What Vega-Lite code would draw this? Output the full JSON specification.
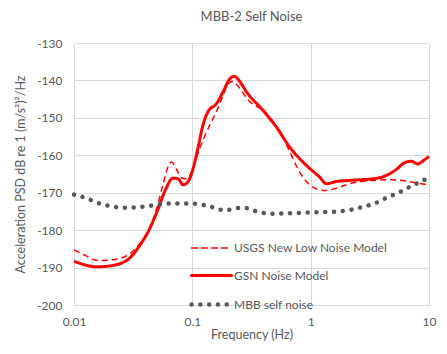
{
  "$schema": "https://vega.github.io/schema/vega-lite/v6.json",
  "width": 355,
  "height": 262,
  "autosize": {"type": "none"},
  "padding": {"left": 74, "top": 43, "right": 18, "bottom": 49},
  "background": "white",
  "config": {"font": "Lato", "view": {"stroke": null}},
  "title": {"text": "MBB-2 Self Noise", "fontSize": 13, "fontWeight": "normal", "color": "#595959", "offset": 13},
  "data": {"values": [
    {"s": "USGS New Low Noise Model", "f": 0.01, "v": -185.3},
    {"s": "USGS New Low Noise Model", "f": 0.012, "v": -186.5},
    {"s": "USGS New Low Noise Model", "f": 0.016, "v": -188.1},
    {"s": "USGS New Low Noise Model", "f": 0.0215, "v": -187.9},
    {"s": "USGS New Low Noise Model", "f": 0.0279, "v": -186.8},
    {"s": "USGS New Low Noise Model", "f": 0.0338, "v": -184.6},
    {"s": "USGS New Low Noise Model", "f": 0.0499, "v": -174.3},
    {"s": "USGS New Low Noise Model", "f": 0.0567, "v": -167.6},
    {"s": "USGS New Low Noise Model", "f": 0.0625, "v": -163.0},
    {"s": "USGS New Low Noise Model", "f": 0.0667, "v": -161.8},
    {"s": "USGS New Low Noise Model", "f": 0.0736, "v": -163.8},
    {"s": "USGS New Low Noise Model", "f": 0.0811, "v": -166.0},
    {"s": "USGS New Low Noise Model", "f": 0.0893, "v": -166.3},
    {"s": "USGS New Low Noise Model", "f": 0.0985, "v": -164.5},
    {"s": "USGS New Low Noise Model", "f": 0.1085, "v": -160.5},
    {"s": "USGS New Low Noise Model", "f": 0.123, "v": -156.0},
    {"s": "USGS New Low Noise Model", "f": 0.14, "v": -152.0},
    {"s": "USGS New Low Noise Model", "f": 0.16, "v": -148.3},
    {"s": "USGS New Low Noise Model", "f": 0.182, "v": -144.0},
    {"s": "USGS New Low Noise Model", "f": 0.20, "v": -141.0},
    {"s": "USGS New Low Noise Model", "f": 0.221, "v": -140.2},
    {"s": "USGS New Low Noise Model", "f": 0.24, "v": -141.3},
    {"s": "USGS New Low Noise Model", "f": 0.30, "v": -145.4},
    {"s": "USGS New Low Noise Model", "f": 0.40, "v": -148.2},
    {"s": "USGS New Low Noise Model", "f": 0.547, "v": -153.5},
    {"s": "USGS New Low Noise Model", "f": 0.665, "v": -159.0},
    {"s": "USGS New Low Noise Model", "f": 0.807, "v": -164.5},
    {"s": "USGS New Low Noise Model", "f": 1.045, "v": -168.5},
    {"s": "USGS New Low Noise Model", "f": 1.31, "v": -169.4},
    {"s": "USGS New Low Noise Model", "f": 1.65, "v": -168.8},
    {"s": "USGS New Low Noise Model", "f": 2.13, "v": -167.6},
    {"s": "USGS New Low Noise Model", "f": 3.15, "v": -166.8},
    {"s": "USGS New Low Noise Model", "f": 4.65, "v": -166.5},
    {"s": "USGS New Low Noise Model", "f": 6.42, "v": -166.9},
    {"s": "USGS New Low Noise Model", "f": 8.31, "v": -167.5},
    {"s": "USGS New Low Noise Model", "f": 10, "v": -168.0},

    {"s": "GSN Noise Model", "f": 0.01, "v": -188.3},
    {"s": "GSN Noise Model", "f": 0.0156, "v": -189.8},
    {"s": "GSN Noise Model", "f": 0.0215, "v": -189.4},
    {"s": "GSN Noise Model", "f": 0.0297, "v": -187.4},
    {"s": "GSN Noise Model", "f": 0.0361, "v": -184.0},
    {"s": "GSN Noise Model", "f": 0.0438, "v": -179.5},
    {"s": "GSN Noise Model", "f": 0.0514, "v": -174.3},
    {"s": "GSN Noise Model", "f": 0.0586, "v": -169.6},
    {"s": "GSN Noise Model", "f": 0.0688, "v": -166.1},
    {"s": "GSN Noise Model", "f": 0.0759, "v": -166.3},
    {"s": "GSN Noise Model", "f": 0.0836, "v": -167.9},
    {"s": "GSN Noise Model", "f": 0.0922, "v": -167.0},
    {"s": "GSN Noise Model", "f": 0.1016, "v": -163.5},
    {"s": "GSN Noise Model", "f": 0.1119, "v": -157.8},
    {"s": "GSN Noise Model", "f": 0.1233, "v": -151.8},
    {"s": "GSN Noise Model", "f": 0.1359, "v": -148.3},
    {"s": "GSN Noise Model", "f": 0.160, "v": -146.2},
    {"s": "GSN Noise Model", "f": 0.182, "v": -143.0},
    {"s": "GSN Noise Model", "f": 0.207, "v": -139.6},
    {"s": "GSN Noise Model", "f": 0.226, "v": -138.9},
    {"s": "GSN Noise Model", "f": 0.252, "v": -140.3},
    {"s": "GSN Noise Model", "f": 0.286, "v": -143.0},
    {"s": "GSN Noise Model", "f": 0.396, "v": -148.0},
    {"s": "GSN Noise Model", "f": 0.514, "v": -152.5},
    {"s": "GSN Noise Model", "f": 0.665, "v": -157.8},
    {"s": "GSN Noise Model", "f": 0.920, "v": -162.7},
    {"s": "GSN Noise Model", "f": 1.19, "v": -165.8},
    {"s": "GSN Noise Model", "f": 1.36, "v": -167.6},
    {"s": "GSN Noise Model", "f": 1.65, "v": -167.0},
    {"s": "GSN Noise Model", "f": 2.13, "v": -166.7},
    {"s": "GSN Noise Model", "f": 2.76, "v": -166.5},
    {"s": "GSN Noise Model", "f": 3.36, "v": -166.3},
    {"s": "GSN Noise Model", "f": 4.35, "v": -165.4},
    {"s": "GSN Noise Model", "f": 5.29, "v": -163.8},
    {"s": "GSN Noise Model", "f": 6.21, "v": -162.0},
    {"s": "GSN Noise Model", "f": 7.08, "v": -161.6},
    {"s": "GSN Noise Model", "f": 8.04, "v": -162.3},
    {"s": "GSN Noise Model", "f": 9.16, "v": -161.2},
    {"s": "GSN Noise Model", "f": 10, "v": -160.3},

    {"s": "MBB self noise", "f": 0.01, "v": -170.5},
    {"s": "MBB self noise", "f": 0.0126, "v": -171.4},
    {"s": "MBB self noise", "f": 0.015, "v": -172.4},
    {"s": "MBB self noise", "f": 0.0177, "v": -173.2},
    {"s": "MBB self noise", "f": 0.0209, "v": -173.6},
    {"s": "MBB self noise", "f": 0.0248, "v": -174.0},
    {"s": "MBB self noise", "f": 0.0293, "v": -174.0},
    {"s": "MBB self noise", "f": 0.0347, "v": -173.9},
    {"s": "MBB self noise", "f": 0.0416, "v": -173.6},
    {"s": "MBB self noise", "f": 0.0505, "v": -173.2},
    {"s": "MBB self noise", "f": 0.0598, "v": -172.9},
    {"s": "MBB self noise", "f": 0.0707, "v": -172.9},
    {"s": "MBB self noise", "f": 0.0836, "v": -172.9},
    {"s": "MBB self noise", "f": 0.1005, "v": -172.9},
    {"s": "MBB self noise", "f": 0.1202, "v": -173.2},
    {"s": "MBB self noise", "f": 0.1425, "v": -173.7},
    {"s": "MBB self noise", "f": 0.168, "v": -174.5},
    {"s": "MBB self noise", "f": 0.1995, "v": -174.6},
    {"s": "MBB self noise", "f": 0.236, "v": -174.1},
    {"s": "MBB self noise", "f": 0.283, "v": -174.1},
    {"s": "MBB self noise", "f": 0.332, "v": -174.8},
    {"s": "MBB self noise", "f": 0.396, "v": -175.4},
    {"s": "MBB self noise", "f": 0.471, "v": -175.6},
    {"s": "MBB self noise", "f": 0.665, "v": -175.5},
    {"s": "MBB self noise", "f": 0.92, "v": -175.3},
    {"s": "MBB self noise", "f": 1.14, "v": -175.2},
    {"s": "MBB self noise", "f": 1.62, "v": -175.1},
    {"s": "MBB self noise", "f": 1.94, "v": -174.8},
    {"s": "MBB self noise", "f": 2.31, "v": -174.4},
    {"s": "MBB self noise", "f": 2.73, "v": -173.8},
    {"s": "MBB self noise", "f": 3.23, "v": -173.2},
    {"s": "MBB self noise", "f": 3.82, "v": -172.3},
    {"s": "MBB self noise", "f": 4.47, "v": -171.2},
    {"s": "MBB self noise", "f": 5.29, "v": -170.3},
    {"s": "MBB self noise", "f": 6.18, "v": -169.2},
    {"s": "MBB self noise", "f": 7.21, "v": -168.1},
    {"s": "MBB self noise", "f": 8.59, "v": -167.0},
    {"s": "MBB self noise", "f": 10, "v": -165.9}
  ]},
  "encoding": {
    "x": {"field": "f", "type": "quantitative",
      "scale": {"type": "log", "domain": [0.01, 10]},
      "axis": {"values": [0.01, 0.1, 1, 10], "format": "~g", "grid": true, "gridColor": "#d9d9d9", "domainColor": "#d9d9d9", "ticks": false,
        "labelPadding": 11, "labelColor": "#595959", "labelFontSize": 12, "labelFlush": false,
        "title": "Frequency (Hz)", "titleFontWeight": "normal", "titleColor": "#595959", "titleFontSize": 12.5,
        "titleY": 33, "titleBaseline": "alphabetic"}},
    "y": {"field": "v", "type": "quantitative",
      "scale": {"domain": [-200, -130], "zero": false, "nice": false},
      "axis": {"values": [-200, -190, -180, -170, -160, -150, -140, -130], "labelExpr": "'' + datum.value", "grid": true, "gridColor": "#d9d9d9", "domainColor": "#d9d9d9", "ticks": false,
        "labelPadding": 12, "labelColor": "#595959", "labelFontSize": 12,
        "title": "Acceleration PSD dB re 1 (m/s²)²/Hz", "titleFontWeight": "normal", "titleColor": "#595959", "titleFontSize": 12.5,
        "titleX": -54, "titleY": 131, "titleBaseline": "middle", "titleAngle": -90, "titleAlign": "center"}},
    "color": {"field": "s", "type": "nominal",
      "scale": {"domain": ["USGS New Low Noise Model", "GSN Noise Model", "MBB self noise"], "range": ["#ff0000", "#ff0000", "#595959"]},
      "legend": {"title": null, "orient": "none", "legendX": 115, "legendY": 184, "padding": 0, "symbolType": "stroke", "symbolSize": 1600,
        "labelFontSize": 12, "labelColor": "#595959", "labelOffset": 0, "rowPadding": -15.5,
        "encode": {"symbols": {"update": {"strokeCap": {"value": "round"}}}}}},
    "strokeDash": {"field": "s", "type": "nominal",
      "scale": {"domain": ["USGS New Low Noise Model", "GSN Noise Model", "MBB self noise"], "range": [[6, 4], [1, 0], [0.1, 8.7]]}, "legend": {"title": null}},
    "strokeWidth": {"field": "s", "type": "nominal",
      "scale": {"domain": ["USGS New Low Noise Model", "GSN Noise Model", "MBB self noise"], "range": [1.5, 4.5, 4]}, "legend": {"title": null}}
  },
  "layer": [
    {"transform": [{"filter": "datum.s === 'USGS New Low Noise Model'"}], "mark": {"type": "line", "interpolate": "monotone"}},
    {"transform": [{"filter": "datum.s === 'GSN Noise Model'"}], "mark": {"type": "line", "interpolate": "monotone"}},
    {"transform": [{"filter": "datum.s === 'MBB self noise'"}], "mark": {"type": "line", "interpolate": "monotone", "strokeCap": "round"}}
  ]
}
